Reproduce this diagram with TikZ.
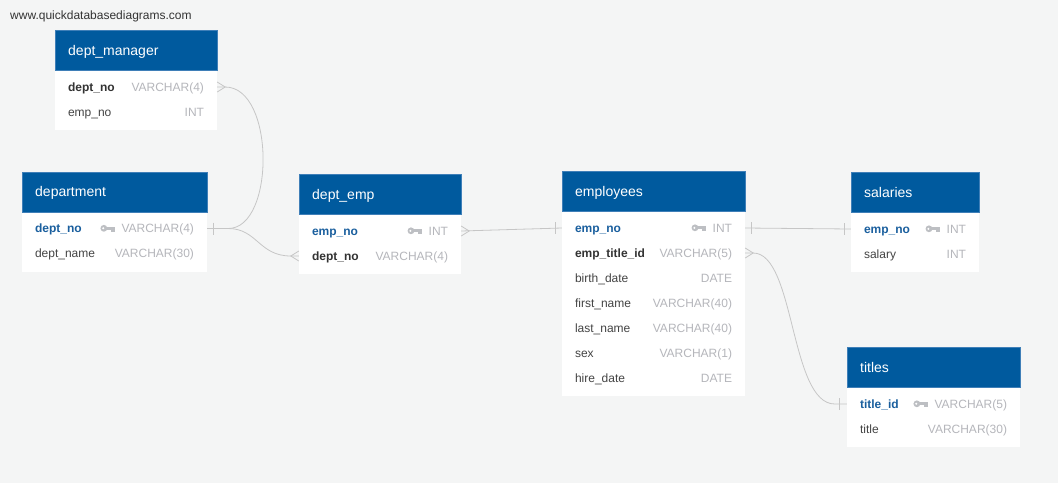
\documentclass[tikz,border=0pt]{standalone}
\usepackage{fontspec}
\setmainfont{Liberation Sans}
\definecolor{bgc}{HTML}{F4F5F5}
\definecolor{hdrblue}{HTML}{005A9E}
\definecolor{hdrline}{HTML}{3F7FB8}
\definecolor{pkc}{HTML}{1A5F9E}
\definecolor{fkc}{HTML}{333333}
\definecolor{fldc}{HTML}{444444}
\definecolor{typc}{HTML}{B5B6BB}
\definecolor{keyc}{HTML}{BDBFC3}
\definecolor{linec}{HTML}{C6C6C6}
\newcommand\rowfont{\fontsize{12}{14}\selectfont}
\tikzset{
  hdr/.style={draw=hdrline, fill=hdrblue, anchor=north west, minimum height=40pt, inner sep=0, line width=0.5pt},
  tbody/.style={fill=white, anchor=north west, inner sep=0},
  rowbox/.style={inner sep=0, minimum height=25pt},
  ttl/.style={anchor=base west, inner sep=0, text=white, font=\fontsize{14}{16}\selectfont},
  fld/.style={anchor=base west, inner sep=0, text=fldc, font=\rowfont},
  pkf/.style={anchor=base west, inner sep=0, text=pkc, font=\rowfont\bfseries},
  fkf/.style={anchor=base west, inner sep=0, text=fkc, font=\rowfont\bfseries},
  typ/.style={anchor=base east, inner sep=0, text=typc, font=\rowfont},
  conn/.style={draw=linec, line width=0.8pt},
  urlt/.style={anchor=west, inner sep=0, text=fkc, font=\rowfont},
  dbkey/.pic={
    \fill[keyc] (0,-0.2) circle (3.4);
    \fill[white] (-0.6,-0.2) circle (1.1);
    \fill[keyc] (2,-1.8) rectangle (11,1.0);
    \fill[keyc] (7.2,0.8) rectangle (8.7,3.3);
    \fill[keyc] (9.5,0.8) rectangle (11,3.3);
  }
}
\begin{document}
\begin{tikzpicture}[x=1pt,y=-1pt]
\fill[bgc] (0,0) rectangle (1058,483);
\useasboundingbox (0,0) rectangle (1058,483);

\node[urlt] (url) at (10,16) {www.quickdatabasediagrams.com};

% ---------- dept_manager ----------
\node[tbody, minimum width=162pt, minimum height=60pt] (dm-b) at (55,70) {};
\node[hdr, minimum width=162pt] (dm) at (55,30) {};
\node[ttl] at ([xshift=13pt,yshift=-5pt]dm.west) {dept\_manager};
\node[rowbox, minimum width=162pt] (dm-deptno) at (136,87) {};
\node[rowbox, minimum width=162pt] (dm-empno) at (136,112) {};
\node[fkf] at ([xshift=13pt,yshift=-4.3pt]dm-deptno.west) {dept\_no};
\node[typ] at ([xshift=-13pt,yshift=-4.3pt]dm-deptno.east) {VARCHAR(4)};
\node[fld] at ([xshift=13pt,yshift=-4.3pt]dm-empno.west) {emp\_no};
\node[typ] at ([xshift=-13pt,yshift=-4.3pt]dm-empno.east) {INT};

% ---------- department ----------
\node[tbody, minimum width=185pt, minimum height=60pt] (dp-b) at (22,211.5) {};
\node[hdr, minimum width=185pt] (dp) at (22,171.5) {};
\node[ttl] at ([xshift=13pt,yshift=-5pt]dp.west) {department};
\node[rowbox, minimum width=185pt] (dp-deptno) at (114.5,228.5) {};
\node[rowbox, minimum width=185pt] (dp-name) at (114.5,253.5) {};
\node[pkf] at ([xshift=13pt,yshift=-4.3pt]dp-deptno.west) {dept\_no};
\node[typ] (dp-deptno-t) at ([xshift=-13pt,yshift=-4.3pt]dp-deptno.east) {VARCHAR(4)};
\pic at ([xshift=-17.5pt]dp-deptno-t.west |- dp-deptno.center) {dbkey};
\node[fld] at ([xshift=13pt,yshift=-4.3pt]dp-name.west) {dept\_name};
\node[typ] at ([xshift=-13pt,yshift=-4.3pt]dp-name.east) {VARCHAR(30)};

% ---------- dept_emp ----------
\node[tbody, minimum width=162pt, minimum height=60pt] (de-b) at (299,214) {};
\node[hdr, minimum width=162pt] (de) at (299,174) {};
\node[ttl] at ([xshift=13pt,yshift=-5pt]de.west) {dept\_emp};
\node[rowbox, minimum width=162pt] (de-empno) at (380,231) {};
\node[rowbox, minimum width=162pt] (de-deptno) at (380,256) {};
\node[pkf] at ([xshift=13pt,yshift=-4.3pt]de-empno.west) {emp\_no};
\node[typ] (de-empno-t) at ([xshift=-13pt,yshift=-4.3pt]de-empno.east) {INT};
\pic at ([xshift=-17.5pt]de-empno-t.west |- de-empno.center) {dbkey};
\node[fkf] at ([xshift=13pt,yshift=-4.3pt]de-deptno.west) {dept\_no};
\node[typ] at ([xshift=-13pt,yshift=-4.3pt]de-deptno.east) {VARCHAR(4)};

% ---------- employees ----------
\node[tbody, minimum width=183pt, minimum height=185pt] (em-b) at (562,211) {};
\node[hdr, minimum width=183pt] (em) at (562,171) {};
\node[ttl] at ([xshift=13pt,yshift=-5pt]em.west) {employees};
\node[rowbox, minimum width=183pt] (em-empno) at (653.5,228) {};
\node[rowbox, minimum width=183pt] (em-title) at (653.5,253) {};
\node[rowbox, minimum width=183pt] (em-birth) at (653.5,278) {};
\node[rowbox, minimum width=183pt] (em-first) at (653.5,303) {};
\node[rowbox, minimum width=183pt] (em-last) at (653.5,328) {};
\node[rowbox, minimum width=183pt] (em-sex) at (653.5,353) {};
\node[rowbox, minimum width=183pt] (em-hire) at (653.5,378) {};
\node[pkf] at ([xshift=13pt,yshift=-4.3pt]em-empno.west) {emp\_no};
\node[typ] (em-empno-t) at ([xshift=-13pt,yshift=-4.3pt]em-empno.east) {INT};
\pic at ([xshift=-17.5pt]em-empno-t.west |- em-empno.center) {dbkey};
\node[fkf] at ([xshift=13pt,yshift=-4.3pt]em-title.west) {emp\_title\_id};
\node[typ] at ([xshift=-13pt,yshift=-4.3pt]em-title.east) {VARCHAR(5)};
\node[fld] at ([xshift=13pt,yshift=-4.3pt]em-birth.west) {birth\_date};
\node[typ] at ([xshift=-13pt,yshift=-4.3pt]em-birth.east) {DATE};
\node[fld] at ([xshift=13pt,yshift=-4.3pt]em-first.west) {first\_name};
\node[typ] at ([xshift=-13pt,yshift=-4.3pt]em-first.east) {VARCHAR(40)};
\node[fld] at ([xshift=13pt,yshift=-4.3pt]em-last.west) {last\_name};
\node[typ] at ([xshift=-13pt,yshift=-4.3pt]em-last.east) {VARCHAR(40)};
\node[fld] at ([xshift=13pt,yshift=-4.3pt]em-sex.west) {sex};
\node[typ] at ([xshift=-13pt,yshift=-4.3pt]em-sex.east) {VARCHAR(1)};
\node[fld] at ([xshift=13pt,yshift=-4.3pt]em-hire.west) {hire\_date};
\node[typ] at ([xshift=-13pt,yshift=-4.3pt]em-hire.east) {DATE};

% ---------- salaries ----------
\node[tbody, minimum width=128pt, minimum height=60pt] (sa-b) at (851,212) {};
\node[hdr, minimum width=128pt] (sa) at (851,172) {};
\node[ttl] at ([xshift=13pt,yshift=-5pt]sa.west) {salaries};
\node[rowbox, minimum width=128pt] (sa-empno) at (915,229) {};
\node[rowbox, minimum width=128pt] (sa-sal) at (915,254) {};
\node[pkf] at ([xshift=13pt,yshift=-4.3pt]sa-empno.west) {emp\_no};
\node[typ] (sa-empno-t) at ([xshift=-13pt,yshift=-4.3pt]sa-empno.east) {INT};
\pic at ([xshift=-17.5pt]sa-empno-t.west |- sa-empno.center) {dbkey};
\node[fld] at ([xshift=13pt,yshift=-4.3pt]sa-sal.west) {salary};
\node[typ] at ([xshift=-13pt,yshift=-4.3pt]sa-sal.east) {INT};

% ---------- titles ----------
\node[tbody, minimum width=173pt, minimum height=60pt] (ti-b) at (847,387) {};
\node[hdr, minimum width=173pt] (ti) at (847,347) {};
\node[ttl] at ([xshift=13pt,yshift=-5pt]ti.west) {titles};
\node[rowbox, minimum width=173pt] (ti-id) at (933.5,404) {};
\node[rowbox, minimum width=173pt] (ti-title) at (933.5,429) {};
\node[pkf] at ([xshift=13pt,yshift=-4.3pt]ti-id.west) {title\_id};
\node[typ] (ti-id-t) at ([xshift=-13pt,yshift=-4.3pt]ti-id.east) {VARCHAR(5)};
\pic at ([xshift=-17.5pt]ti-id-t.west |- ti-id.center) {dbkey};
\node[fld] at ([xshift=13pt,yshift=-4.3pt]ti-title.west) {title};
\node[typ] at ([xshift=-13pt,yshift=-4.3pt]ti-title.east) {VARCHAR(30)};

% ---------- connectors ----------
% dept_manager.dept_no >- department.dept_no
\draw[conn] (dm-deptno.east) -- ([xshift=8pt]dm-deptno.east)
  .. controls ([xshift=58pt]dm-deptno.east) and ([xshift=68pt]dp-deptno.east)
  .. ([xshift=21pt]dp-deptno.east) -- (dp-deptno.east);
\draw[conn] ([yshift=5pt]dm-deptno.east) -- ([xshift=8pt]dm-deptno.east) -- ([yshift=-5pt]dm-deptno.east);
% department.dept_no -< dept_emp.dept_no
\draw[conn] ([xshift=21pt]dp-deptno.east)
  .. controls ([xshift=50pt]dp-deptno.east) and ([xshift=-40pt]de-deptno.west)
  .. ([xshift=-8pt]de-deptno.west) -- (de-deptno.west);
\draw[conn] ([xshift=6pt,yshift=6pt]dp-deptno.east) -- ([xshift=6pt,yshift=-6pt]dp-deptno.east);
\draw[conn] ([yshift=5pt]de-deptno.west) -- ([xshift=-8pt]de-deptno.west) -- ([yshift=-5pt]de-deptno.west);
% dept_emp.emp_no >- employees.emp_no
\draw[conn] (de-empno.east) -- (em-empno.west);
\draw[conn] ([yshift=5pt]de-empno.east) -- ([xshift=8pt]de-empno.east) -- ([yshift=-5pt]de-empno.east);
\draw[conn] ([xshift=-6pt,yshift=6pt]em-empno.west) -- ([xshift=-6pt,yshift=-6pt]em-empno.west);
% employees.emp_no -- salaries.emp_no
\draw[conn] (em-empno.east) -- (sa-empno.west);
\draw[conn] ([xshift=6pt,yshift=6pt]em-empno.east) -- ([xshift=6pt,yshift=-6pt]em-empno.east);
\draw[conn] ([xshift=-6pt,yshift=6pt]sa-empno.west) -- ([xshift=-6pt,yshift=-6pt]sa-empno.west);
% employees.emp_title_id >- titles.title_id
\draw[conn] (em-title.east) -- ([xshift=8pt]em-title.east)
  .. controls ([xshift=50pt]em-title.east) and ([xshift=-57pt]ti-id.west)
  .. ([xshift=-12pt]ti-id.west) -- (ti-id.west);
\draw[conn] ([yshift=5pt]em-title.east) -- ([xshift=8pt]em-title.east) -- ([yshift=-5pt]em-title.east);
\draw[conn] ([xshift=-7pt,yshift=6pt]ti-id.west) -- ([xshift=-7pt,yshift=-6pt]ti-id.west);
\end{tikzpicture}
\end{document}
